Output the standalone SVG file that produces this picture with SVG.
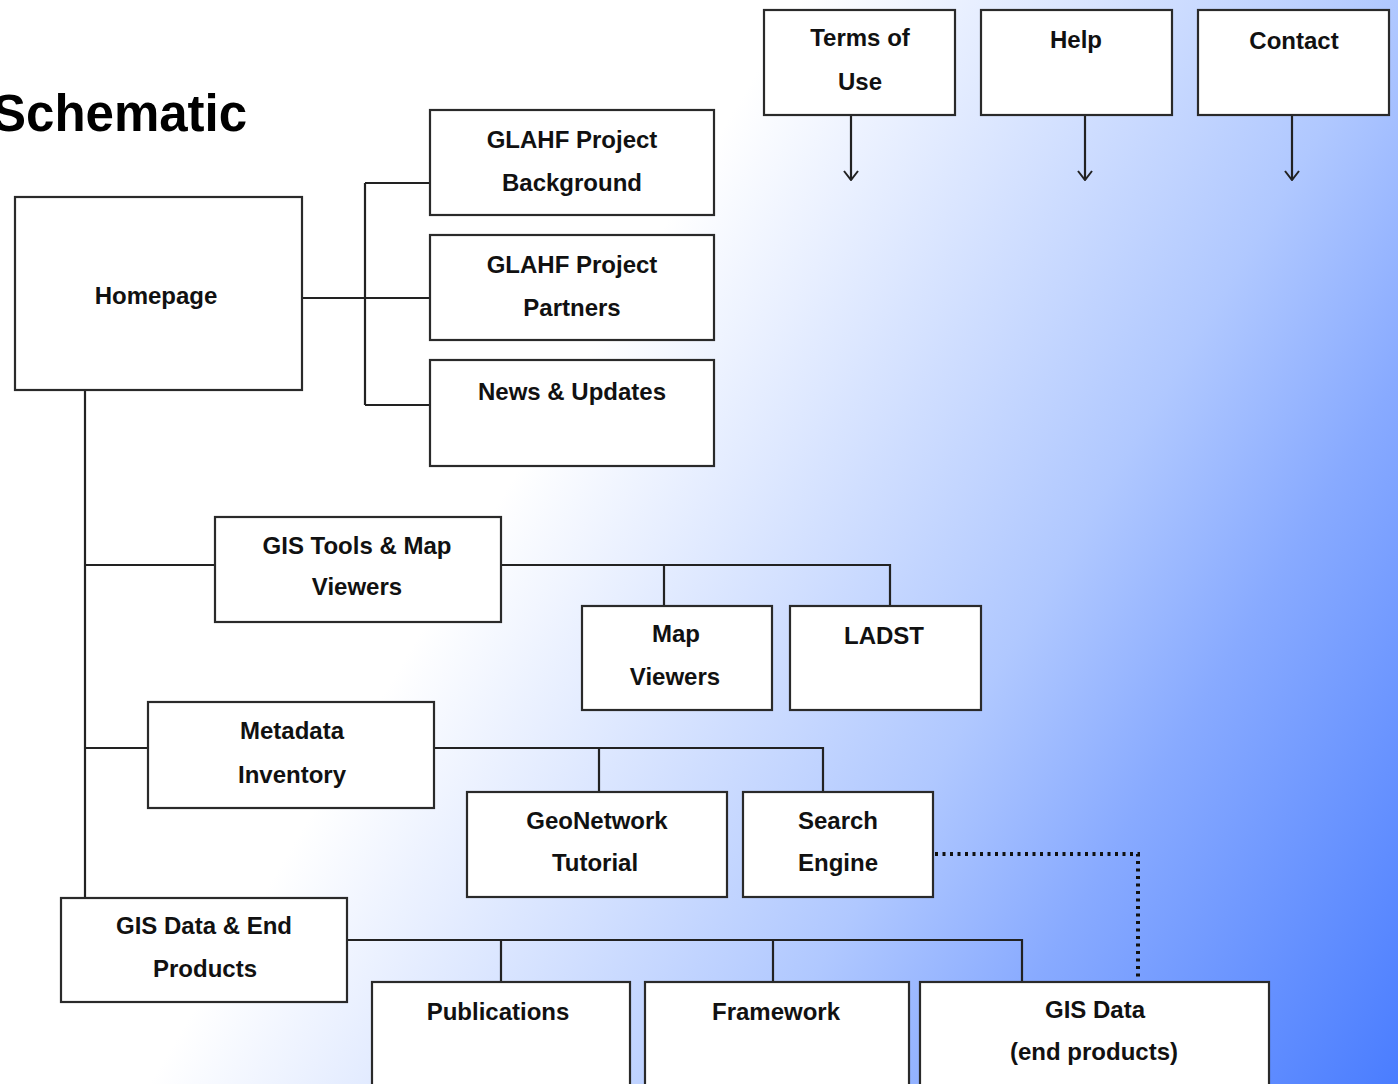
<svg xmlns="http://www.w3.org/2000/svg" width="1398" height="1084" viewBox="0 0 1398 1084">
<defs>
<linearGradient id="bg" gradientUnits="userSpaceOnUse" x1="588" y1="353" x2="1506" y2="904">
<stop offset="0" stop-color="#ffffff"/>
<stop offset="0.48" stop-color="#b0c8ff"/>
<stop offset="0.66" stop-color="#88aaff"/>
<stop offset="1" stop-color="#4a7dff"/>
</linearGradient>
<marker id="arr" viewBox="0 0 12 16" refX="11" refY="8" markerWidth="12" markerHeight="16" markerUnits="userSpaceOnUse" orient="auto">
<path d="M2,1 L11,8 L2,15" fill="none" stroke="#222" stroke-width="2"/>
</marker>
</defs>
<style>
.box{fill:#fff;stroke:#2a2a2a;stroke-width:2.2}
.t{font-family:"Liberation Sans",Arial,sans-serif;font-weight:bold;font-size:24px;fill:#111;text-anchor:middle}
.ln{fill:none;stroke:#222;stroke-width:2.2}
.dot{fill:none;stroke:#111;stroke-width:4;stroke-dasharray:3 4.5}
.title{font-family:"Liberation Sans",Arial,sans-serif;font-weight:bold;font-size:51px;fill:#000}
</style>
<rect x="0" y="0" width="1398" height="1084" fill="url(#bg)"/>
<text class="title" x="-8" y="131">Schematic</text>

<g id="connectors">
<path class="ln" d="M302,298 H430 M365,183 V405 M365,183 H430 M365,405 H430"/>
<path class="ln" d="M85,390 V898 M85,565 H215 M85,748 H148"/>
<path class="ln" d="M501,565 H890 V606 M664,565 V606"/>
<path class="ln" d="M434,748 H823 V792 M599,748 V792"/>
<path class="ln" d="M347,940 H1022 V982 M501,940 V982 M773,940 V982"/>
<path class="dot" d="M935,854 H1138 V982"/>
<path class="ln" d="M851,115 V180" marker-end="url(#arr)"/>
<path class="ln" d="M1085,115 V180" marker-end="url(#arr)"/>
<path class="ln" d="M1292,115 V180" marker-end="url(#arr)"/>
</g>

<g id="terms"><rect class="box" x="764" y="10" width="191" height="105"/><text class="t" x="860" y="46">Terms of</text><text class="t" x="860" y="90">Use</text></g>
<g id="help"><rect class="box" x="981" y="10" width="191" height="105"/><text class="t" x="1076" y="48">Help</text></g>
<g id="contact"><rect class="box" x="1198" y="10" width="191" height="105"/><text class="t" x="1294" y="49">Contact</text></g>

<g id="homepage"><rect class="box" x="15" y="197" width="287" height="193"/><text class="t" x="156" y="304">Homepage</text></g>
<g id="background"><rect class="box" x="430" y="110" width="284" height="105"/><text class="t" x="572" y="148">GLAHF Project</text><text class="t" x="572" y="191">Background</text></g>
<g id="partners"><rect class="box" x="430" y="235" width="284" height="105"/><text class="t" x="572" y="273">GLAHF Project</text><text class="t" x="572" y="316">Partners</text></g>
<g id="news"><rect class="box" x="430" y="360" width="284" height="106"/><text class="t" x="572" y="400">News &amp; Updates</text></g>

<g id="gistools"><rect class="box" x="215" y="517" width="286" height="105"/><text class="t" x="357" y="554">GIS Tools &amp; Map</text><text class="t" x="357" y="595">Viewers</text></g>
<g id="mapviewers"><rect class="box" x="582" y="606" width="190" height="104"/><text class="t" x="676" y="642">Map</text><text class="t" x="675" y="685">Viewers</text></g>
<g id="ladst"><rect class="box" x="790" y="606" width="191" height="104"/><text class="t" x="884" y="644">LADST</text></g>

<g id="metadata"><rect class="box" x="148" y="702" width="286" height="106"/><text class="t" x="292" y="739">Metadata</text><text class="t" x="292" y="783">Inventory</text></g>
<g id="geonetwork"><rect class="box" x="467" y="792" width="260" height="105"/><text class="t" x="597" y="829">GeoNetwork</text><text class="t" x="595" y="871">Tutorial</text></g>
<g id="search"><rect class="box" x="743" y="792" width="190" height="105"/><text class="t" x="838" y="829">Search</text><text class="t" x="838" y="871">Engine</text></g>

<g id="gisdata"><rect class="box" x="61" y="898" width="286" height="104"/><text class="t" x="204" y="934">GIS Data &amp; End</text><text class="t" x="205" y="977">Products</text></g>
<g id="publications"><rect class="box" x="372" y="982" width="258" height="110"/><text class="t" x="498" y="1020">Publications</text></g>
<g id="framework"><rect class="box" x="645" y="982" width="264" height="110"/><text class="t" x="776" y="1020">Framework</text></g>
<g id="gisend"><rect class="box" x="920" y="982" width="349" height="110"/><text class="t" x="1095" y="1018">GIS Data</text><text class="t" x="1094" y="1060">(end products)</text></g>
</svg>
